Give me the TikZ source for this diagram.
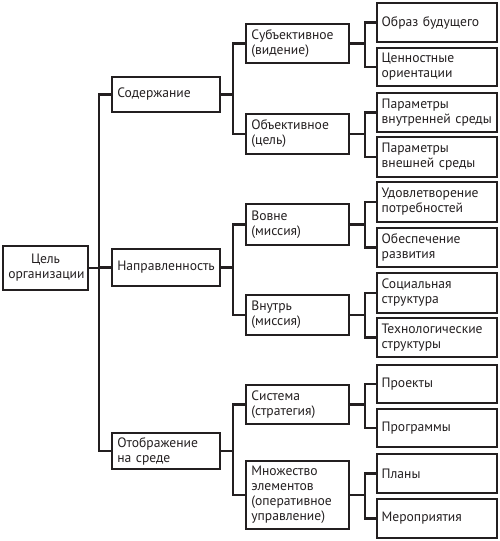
\documentclass[tikz,border=0pt]{standalone}
\usepackage{fontspec}
\setmainfont{PT Sans}
\definecolor{ink}{HTML}{231F20}
\begin{document}
\begin{tikzpicture}[x=0.75pt,y=-0.75pt,
  box/.style={draw=ink, text=ink, line width=1.8pt, inner xsep=4pt, inner ysep=0pt, outer sep=0pt,
    align=left, anchor=center, font=\fontsize{10.2}{11.2}\selectfont},
  rootbox/.style={box, align=center, minimum width=63.75pt, text width=55.75pt},
  lone/.style={box, minimum width=81pt, text width=73pt},
  ltwo/.style={box, minimum width=77.25pt, text width=69.25pt},
  lthree/.style={box, inner xsep=3.5pt, minimum width=90pt, text width=83pt},
  conn/.style={draw=ink, line width=1.8pt}]
\useasboundingbox (0,0) rectangle (499,541);

\node[rootbox, minimum height=33pt] (root) at (45.5,268) {Цель\\организации};

\node[lone, minimum height=26.25pt] (a) at (166,94.5) {Содержание};
\node[lone, minimum height=27.75pt] (b) at (166,267.5) {Направленность};
\node[lone, minimum height=27pt] (c) at (166,451) {Отображение\\на среде};

\node[ltwo, minimum height=29.25pt] (a1) at (297.5,43.5) {Субъективное\\(видение)};
\node[ltwo, minimum height=30pt] (a2) at (297.5,134) {Объективное\\(цель)};
\node[ltwo, minimum height=30.75pt] (b1) at (297.5,224.5) {Вовне\\(миссия)};
\node[ltwo, minimum height=30pt] (b2) at (297.5,315) {Внутрь\\(миссия)};
\node[ltwo, minimum height=29.25pt] (c1) at (297.5,404.5) {Система\\(стратегия)};
\node[ltwo, minimum height=51pt] (c2) at (297.5,495) {Множество\\элементов\\(оперативное\\управление)};

\node[lthree, minimum height=29.25pt] (a11) at (437,22.5) {Образ будущего};
\node[lthree, minimum height=28.5pt] (a12) at (437,67) {Ценностные\\ориентации};
\node[lthree, minimum height=29.25pt] (a21) at (437,112.5) {Параметры\\внутренней среды};
\node[lthree, minimum height=30pt] (a22) at (437,157) {Параметры\\внешней среды};
\node[lthree, minimum height=30pt] (b11) at (437,202) {Удовлетворение\\потребностей};
\node[lthree, minimum height=29.25pt] (b12) at (437,247.5) {Обеспечение\\развития};
\node[lthree, minimum height=30pt] (b21) at (437,293) {Социальная\\структура};
\node[lthree, minimum height=29.25pt] (b22) at (437,337.5) {Технологические\\структуры};
\node[lthree, minimum height=28.5pt] (c11) at (437,384) {Проекты};
\node[lthree, minimum height=28.5pt] (c12) at (437,428) {Программы};
\node[lthree, minimum height=29.25pt] (c21) at (437,473.5) {Планы};
\node[lthree, minimum height=29.25pt] (c22) at (437,518.5) {Мероприятия};

\foreach \ch in {a,b,c} \draw[conn] (root.east) -- ++(11,0) |- (\ch.west);
\foreach \p/\q/\r in {a/a1/a2, b/b1/b2, c/c1/c2} {
  \draw[conn] (\p.east) -- ++(13,0) |- (\q.west);
  \draw[conn] (\p.east) -- ++(13,0) |- (\r.west);
}
\foreach \p in {a1,a2,b1,b2,c1,c2} {
  \draw[conn] (\p.east) -- ++(16,0) |- (\p1.west);
  \draw[conn] (\p.east) -- ++(16,0) |- (\p2.west);
}
\end{tikzpicture}
\end{document}
